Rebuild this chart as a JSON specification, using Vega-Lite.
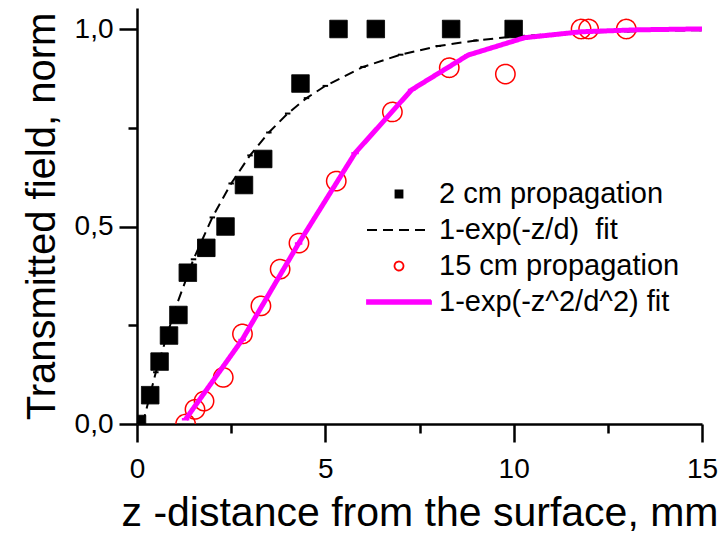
{
  "$schema": "https://vega.github.io/schema/vega-lite/v6.json",
  "width": 565,
  "height": 416,
  "autosize": "none",
  "padding": {"left": 137, "top": 8, "right": 20, "bottom": 115},
  "background": "white",
  "config": {"view": {"stroke": null}, "font": "Liberation Sans"},
  "datasets": {
    "fit1": [
      {"series": "1-exp(-z/d)\u00a0 fit", "z": 0.15, "v": 0.0},
      {"series": "1-exp(-z/d)\u00a0 fit", "z": 0.5, "v": 0.131},
      {"series": "1-exp(-z/d)\u00a0 fit", "z": 1.0, "v": 0.288},
      {"series": "1-exp(-z/d)\u00a0 fit", "z": 1.5, "v": 0.417},
      {"series": "1-exp(-z/d)\u00a0 fit", "z": 2.0, "v": 0.523},
      {"series": "1-exp(-z/d)\u00a0 fit", "z": 2.5, "v": 0.609},
      {"series": "1-exp(-z/d)\u00a0 fit", "z": 3.0, "v": 0.68},
      {"series": "1-exp(-z/d)\u00a0 fit", "z": 3.5, "v": 0.738},
      {"series": "1-exp(-z/d)\u00a0 fit", "z": 4.0, "v": 0.786},
      {"series": "1-exp(-z/d)\u00a0 fit", "z": 4.5, "v": 0.825},
      {"series": "1-exp(-z/d)\u00a0 fit", "z": 5.0, "v": 0.856},
      {"series": "1-exp(-z/d)\u00a0 fit", "z": 6.0, "v": 0.904},
      {"series": "1-exp(-z/d)\u00a0 fit", "z": 7.0, "v": 0.935},
      {"series": "1-exp(-z/d)\u00a0 fit", "z": 8.0, "v": 0.957},
      {"series": "1-exp(-z/d)\u00a0 fit", "z": 9.0, "v": 0.971},
      {"series": "1-exp(-z/d)\u00a0 fit", "z": 10.0, "v": 0.981},
      {"series": "1-exp(-z/d)\u00a0 fit", "z": 11.0, "v": 0.987},
      {"series": "1-exp(-z/d)\u00a0 fit", "z": 12.0, "v": 0.991},
      {"series": "1-exp(-z/d)\u00a0 fit", "z": 13.0, "v": 0.994},
      {"series": "1-exp(-z/d)\u00a0 fit", "z": 14.0, "v": 0.996},
      {"series": "1-exp(-z/d)\u00a0 fit", "z": 15.0, "v": 0.997}
    ],
    "cm2": [
      {"series": "2 cm propagation", "z": 0.0, "v": 0.0},
      {"series": "2 cm propagation", "z": 0.35, "v": 0.073},
      {"series": "2 cm propagation", "z": 0.6, "v": 0.158},
      {"series": "2 cm propagation", "z": 0.85, "v": 0.224},
      {"series": "2 cm propagation", "z": 1.1, "v": 0.276},
      {"series": "2 cm propagation", "z": 1.35, "v": 0.383},
      {"series": "2 cm propagation", "z": 1.84, "v": 0.446},
      {"series": "2 cm propagation", "z": 2.35, "v": 0.5},
      {"series": "2 cm propagation", "z": 2.84, "v": 0.605},
      {"series": "2 cm propagation", "z": 3.35, "v": 0.671},
      {"series": "2 cm propagation", "z": 4.34, "v": 0.862},
      {"series": "2 cm propagation", "z": 5.35, "v": 1.0},
      {"series": "2 cm propagation", "z": 6.34, "v": 1.0},
      {"series": "2 cm propagation", "z": 8.34, "v": 1.0},
      {"series": "2 cm propagation", "z": 10.0, "v": 1.0}
    ],
    "cm15": [
      {"series": "15 cm propagation", "z": 1.29, "v": 0.0},
      {"series": "15 cm propagation", "z": 1.54, "v": 0.037},
      {"series": "15 cm propagation", "z": 1.78, "v": 0.058},
      {"series": "15 cm propagation", "z": 2.29, "v": 0.118},
      {"series": "15 cm propagation", "z": 2.8, "v": 0.228},
      {"series": "15 cm propagation", "z": 3.29, "v": 0.299},
      {"series": "15 cm propagation", "z": 3.8, "v": 0.392},
      {"series": "15 cm propagation", "z": 4.3, "v": 0.458},
      {"series": "15 cm propagation", "z": 5.29, "v": 0.615},
      {"series": "15 cm propagation", "z": 6.78, "v": 0.79},
      {"series": "15 cm propagation", "z": 8.29, "v": 0.902},
      {"series": "15 cm propagation", "z": 9.78, "v": 0.886},
      {"series": "15 cm propagation", "z": 11.79, "v": 1.0},
      {"series": "15 cm propagation", "z": 11.99, "v": 1.0},
      {"series": "15 cm propagation", "z": 12.99, "v": 1.0}
    ],
    "fit2": [
      {"series": "1-exp(-z^2/d^2) fit", "z": 1.29, "v": 0.012},
      {"series": "1-exp(-z^2/d^2) fit", "z": 2.79, "v": 0.213},
      {"series": "1-exp(-z^2/d^2) fit", "z": 4.29, "v": 0.457},
      {"series": "1-exp(-z^2/d^2) fit", "z": 5.79, "v": 0.686},
      {"series": "1-exp(-z^2/d^2) fit", "z": 7.29, "v": 0.846},
      {"series": "1-exp(-z^2/d^2) fit", "z": 8.79, "v": 0.934},
      {"series": "1-exp(-z^2/d^2) fit", "z": 10.29, "v": 0.978},
      {"series": "1-exp(-z^2/d^2) fit", "z": 11.79, "v": 0.993},
      {"series": "1-exp(-z^2/d^2) fit", "z": 13.29, "v": 0.998},
      {"series": "1-exp(-z^2/d^2) fit", "z": 14.79, "v": 1.0},
      {"series": "1-exp(-z^2/d^2) fit", "z": 15.0, "v": 1.0}
    ]
  },
  "encoding": {
    "x": {
      "field": "z",
      "type": "quantitative",
      "scale": {"domain": [0, 15], "nice": false, "zero": false},
      "axis": {
        "title": "z -distance from the surface, mm",
        "orient": "bottom",
        "values": [0, 2.5, 5, 7.5, 10, 12.5, 15],
        "labelExpr": "datum.value % 5 === 0 ? datum.label : ''",
        "labelFlush": false,
        "labelOverlap": false,
        "grid": false,
        "domainColor": "black",
        "domainWidth": 2.5,
        "tickColor": "black",
        "tickWidth": 2.5,
        "tickSize": {"condition": {"test": "datum.value % 5 !== 0", "value": 9}, "value": 18},
        "labelFontSize": 28,
        "labelColor": "black",
        "labelPadding": 13,
        "titleFontSize": 41,
        "titleFontWeight": "normal",
        "titleColor": "black",
        "titlePadding": 10
      }
    },
    "y": {
      "field": "v",
      "type": "quantitative",
      "scale": {"domain": [0, 1.0532], "nice": false, "zero": false},
      "axis": {
        "title": "Transmitted field, norm",
        "orient": "left",
        "values": [0, 0.25, 0.5, 0.75, 1],
        "labelExpr": "datum.value % 0.5 === 0 ? replace(format(datum.value, '.1f'), '.', ',') : ''",
        "labelOverlap": false,
        "grid": false,
        "domainColor": "black",
        "domainWidth": 2.5,
        "tickColor": "black",
        "tickWidth": 2.5,
        "tickSize": {"condition": {"test": "datum.value % 0.5 !== 0", "value": 9}, "value": 18},
        "labelFontSize": 28,
        "labelColor": "black",
        "labelPadding": 6,
        "titleFontSize": 40,
        "titleFontWeight": "normal",
        "titleColor": "black",
        "titlePadding": 12
      }
    },
    "stroke": {
      "field": "series",
      "type": "nominal",
      "scale": {
        "domain": ["2 cm propagation", "1-exp(-z/d)\u00a0 fit", "15 cm propagation", "1-exp(-z^2/d^2) fit"],
        "range": ["black", "black", "red", "magenta"]
      },
      "legend": {
        "orient": "none", "legendX": 229, "legendY": 171, "title": null, "padding": 0,
        "labelFontSize": 29, "labelColor": "black", "labelLimit": 500, "labelOffset": 7,
        "symbolSize": 4096, "clipHeight": 30, "rowPadding": 6,
        "symbolFillColor": "transparent", "symbolStrokeWidth": 1.8, "symbolOpacity": 1
      }
    },
    "strokeDash": {
      "field": "series",
      "type": "nominal",
      "scale": {
        "domain": ["2 cm propagation", "1-exp(-z/d)\u00a0 fit", "15 cm propagation", "1-exp(-z^2/d^2) fit"],
        "range": [[1, 0], [10, 6], [1, 0], [1, 0]]
      },
      "legend": {
        "orient": "none", "legendX": 229, "legendY": 171, "title": null, "padding": 0,
        "labelFontSize": 29, "labelColor": "black", "labelLimit": 500, "labelOffset": 7,
        "symbolSize": 4096, "clipHeight": 30, "rowPadding": 6,
        "symbolFillColor": "transparent", "symbolStrokeWidth": 1.8, "symbolOpacity": 1
      }
    },
    "shape": {
      "field": "series",
      "type": "nominal",
      "scale": {
        "domain": ["2 cm propagation", "1-exp(-z/d)\u00a0 fit", "15 cm propagation", "1-exp(-z^2/d^2) fit"],
        "range": [
          "M-0.11,-0.11H0.11V0.11H-0.11Z",
          "M-1,0H1",
          "M0.14,0A0.14,0.14,0,1,1,-0.14,0A0.14,0.14,0,1,1,0.14,0Z",
          "M-1,-0.055H1V0.055H-1Z"
        ]
      },
      "legend": {
        "orient": "none", "legendX": 229, "legendY": 171, "title": null, "padding": 0,
        "labelFontSize": 29, "labelColor": "black", "labelLimit": 500, "labelOffset": 7,
        "symbolSize": 4096, "clipHeight": 30, "rowPadding": 6,
        "symbolFillColor": "transparent", "symbolStrokeWidth": 1.8, "symbolOpacity": 1
      }
    }
  },
  "layer": [
    {
      "data": {"name": "cm2"},
      "mark": {"type": "point", "filled": true, "size": 25300, "strokeWidth": 1, "opacity": 1, "clip": true},
      "encoding": {
        "fill": {
          "field": "series",
          "type": "nominal",
          "scale": {
            "domain": ["2 cm propagation", "1-exp(-z/d)\u00a0 fit", "15 cm propagation", "1-exp(-z^2/d^2) fit"],
            "range": ["black", "transparent", "transparent", "magenta"]
          },
          "legend": {
            "orient": "none", "legendX": 229, "legendY": 171, "title": null, "padding": 0,
            "labelFontSize": 29, "labelColor": "black", "labelLimit": 500, "labelOffset": 7,
            "symbolSize": 4096, "clipHeight": 30, "rowPadding": 6,
            "symbolFillColor": "transparent", "symbolStrokeWidth": 1.8, "symbolOpacity": 1
          }
        }
      }
    },
    {"data": {"name": "fit1"}, "mark": {"type": "line", "strokeWidth": 2, "clip": true}},
    {
      "data": {"name": "cm15"},
      "mark": {"type": "point", "filled": false, "size": 19044, "strokeWidth": 1.5, "opacity": 1, "clip": true},
      "encoding": {
        "fill": {
          "field": "series",
          "type": "nominal",
          "scale": {
            "domain": ["2 cm propagation", "1-exp(-z/d)\u00a0 fit", "15 cm propagation", "1-exp(-z^2/d^2) fit"],
            "range": ["black", "transparent", "transparent", "magenta"]
          },
          "legend": {
            "orient": "none", "legendX": 229, "legendY": 171, "title": null, "padding": 0,
            "labelFontSize": 29, "labelColor": "black", "labelLimit": 500, "labelOffset": 7,
            "symbolSize": 4096, "clipHeight": 30, "rowPadding": 6,
            "symbolFillColor": "transparent", "symbolStrokeWidth": 1.8, "symbolOpacity": 1
          }
        }
      }
    },
    {"data": {"name": "fit2"}, "mark": {"type": "line", "strokeWidth": 5, "clip": true}}
  ]
}
